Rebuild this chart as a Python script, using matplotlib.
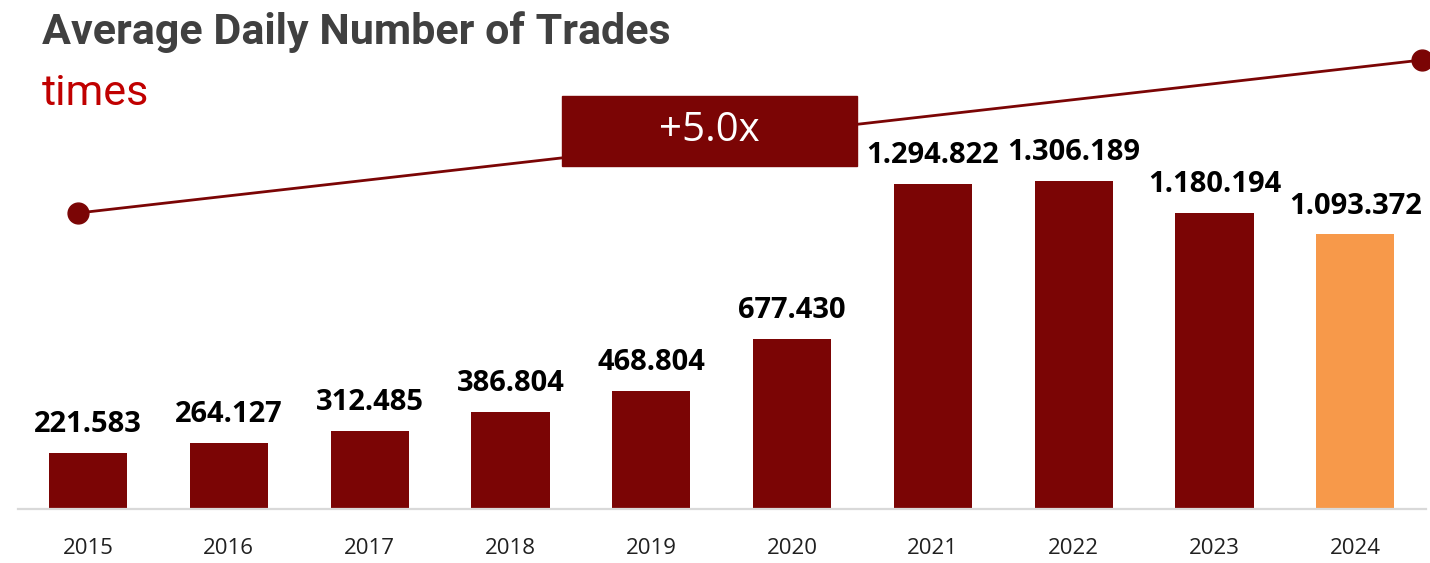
import matplotlib.pyplot as plt
from matplotlib.patches import Rectangle
from matplotlib.lines import Line2D

years = ["2015", "2016", "2017", "2018", "2019", "2020", "2021", "2022", "2023", "2024"]
trades = [221583, 264127, 312485, 386804, 468804, 677430, 1294822, 1306189, 1180194, 1093372]
labels = ["221.583", "264.127", "312.485", "386.804", "468.804", "677.430",
          "1.294.822", "1.306.189", "1.180.194", "1.093.372"]
growth_label = "+5.0x"

DARK_RED = "#7B0505"
ORANGE = "#F7994A"

fig = plt.figure(figsize=(14.3, 5.63), dpi=100)
ax = fig.add_axes([0.0123, 0.0959, 0.9847, 0.9041])

colors = [DARK_RED] * (len(years) - 1) + [ORANGE]
x = list(range(len(years)))
ax.bar(x, trades, width=0.555, color=colors, zorder=2)

for xi, v, lab in zip(x, trades, labels):
    ax.annotate(lab, (xi, v), xytext=(0, 10), textcoords="offset points",
                ha="center", va="bottom", fontsize=21, fontweight="bold",
                family=["Open Sans", "DejaVu Sans"], color="black")

ax.set_xlim(-0.5, 9.5)
ax.set_ylim(0, 2.027e6)
ax.set_xticks(x)
ax.set_xticklabels(years, family=["Open Sans", "DejaVu Sans"], fontsize=16, color="#202020")
ax.tick_params(axis="x", length=0, pad=21)
ax.set_yticks([])
for side in ["top", "right", "left"]:
    ax.spines[side].set_visible(False)
ax.spines["bottom"].set_color("#D9D9D9")
ax.spines["bottom"].set_linewidth(1.6)

# growth line across the chart (figure pixel coordinates -> fraction)
W, H = 1430, 563
x0, y0, x1, y1 = 78 / W, 1 - 213 / H, 1422 / W, 1 - 60 / H
fig.add_artist(Line2D([x0, x1], [y0, y1], color=DARK_RED, lw=2, zorder=3))
fig.add_artist(Line2D([x0, x1], [y0, y1], color=DARK_RED, lw=0, marker="o",
                      markersize=15, zorder=4))

fig.add_artist(Rectangle((562 / W, 1 - 166 / H), (857 - 562) / W, 70 / H,
                         transform=fig.transFigure, color=DARK_RED, zorder=5))
fig.text((562 + 857) / 2 / W, 1 - 131 / H, growth_label, ha="center", va="center",
         fontsize=29, color="white", family=["Open Sans", "DejaVu Sans"], zorder=6)

narrow = ["Roboto", "DejaVu Sans"]
fig.text(42 / W, 1 - 44 / H, "Average Daily Number of Trades", ha="left", va="baseline",
         fontsize=31, fontweight="bold", color="#404040", family=narrow)
fig.text(42 / W, 1 - 105 / H, "times", ha="left", va="baseline",
         fontsize=31, color="#C00000", family=narrow)

fig.savefig("out.png", dpi=100)
